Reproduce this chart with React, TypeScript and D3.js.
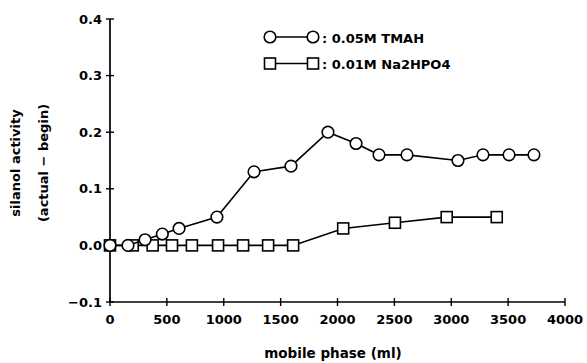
import React from "react";
import * as d3 from "d3";

const tmahX = [0, 158, 308, 460, 607, 940, 1266, 1591, 1916, 2163, 2365, 2611, 3059, 3279, 3508, 3727];
const tmahY = [0, 0, 0.01, 0.02, 0.03, 0.05, 0.13, 0.14, 0.2, 0.18, 0.16, 0.16, 0.15, 0.16, 0.16, 0.16];
const naX = [0, 200, 375, 545, 720, 950, 1170, 1390, 1610, 2050, 2505, 2960, 3400];
const naY = [0, 0, 0, 0, 0, 0, 0, 0, 0, 0.03, 0.04, 0.05, 0.05];
const xTicks = [0, 500, 1000, 1500, 2000, 2500, 3000, 3500, 4000];
const yTicks = [-0.1, 0.0, 0.1, 0.2, 0.3, 0.4];
const legendLabels = [": 0.05M TMAH", ": 0.01M Na2HPO4"];

const FONT = "'DejaVu Sans', sans-serif";

export default function App() {
  const W = 587, H = 363;
  const x = d3.scaleLinear().domain([0, 4000]).range([110, 565]);
  const y = d3.scaleLinear().domain([-0.1, 0.4]).range([302, 19]);
  const line = d3.line<[number, number]>().x(d => x(d[0])).y(d => y(d[1]));
  const tmah: [number, number][] = tmahX.map((v, i) => [v, tmahY[i]]);
  const na: [number, number][] = naX.map((v, i) => [v, naY[i]]);
  const r = 5.8;
  const s = 11;
  const sw = 1.6;
  return (
    <svg width={W} height={H} style={{ position: "absolute", left: 0, top: 0, background: "#fff" }}>
      <rect width={W} height={H} fill="#fff" />
      {/* axes */}
      <line x1={x(0)} x2={x(0)} y1={y(0.4)} y2={y(-0.1)} stroke="#000" strokeWidth={1.7} />
      <line x1={x(0)} x2={x(4000)} y1={y(-0.1)} y2={y(-0.1)} stroke="#000" strokeWidth={1.7} />
      {yTicks.map(t => (
        <g key={"y" + t}>
          <line x1={x(0) - 4} x2={x(0) + 4} y1={y(t)} y2={y(t)} stroke="#000" strokeWidth={1.4} />
          <text x={x(0) - 8} y={y(t) + 4.5} textAnchor="end" fontFamily={FONT} fontWeight="bold" fontSize={13} fill="#000">
            {t < 0 ? "\u22120.1" : t.toFixed(1)}
          </text>
        </g>
      ))}
      {xTicks.map(t => (
        <g key={"x" + t}>
          <line x1={x(t)} x2={x(t)} y1={y(-0.1) - 4} y2={y(-0.1) + 4} stroke="#000" strokeWidth={1.4} />
          <text x={x(t)} y={324} textAnchor="middle" fontFamily={FONT} fontWeight="bold" fontSize={13} fill="#000">
            {t}
          </text>
        </g>
      ))}
      <text x={333} y={358} textAnchor="middle" fontFamily={FONT} fontWeight="bold" fontSize={13.5} fill="#000">
        mobile phase (ml)
      </text>
      <text transform="translate(20,163) rotate(-90)" textAnchor="middle" fontFamily={FONT} fontWeight="bold" fontSize={13} fill="#000">
        silanol activity
      </text>
      <text transform="translate(48,163) rotate(-90)" textAnchor="middle" fontFamily={FONT} fontWeight="bold" fontSize={13} fill="#000">
        (actual {"\u2212"} begin)
      </text>
      {/* series */}
      <path d={line(na) || ""} fill="none" stroke="#000" strokeWidth={sw} />
      {na.map((d, i) => (
        <rect key={"s" + i} x={x(d[0]) - s / 2} y={y(d[1]) - s / 2} width={s} height={s} fill="#fff" stroke="#000" strokeWidth={sw} />
      ))}
      <path d={line(tmah) || ""} fill="none" stroke="#000" strokeWidth={sw} />
      {tmah.map((d, i) => (
        <circle key={"c" + i} cx={x(d[0])} cy={y(d[1])} r={r} fill="#fff" stroke="#000" strokeWidth={sw} />
      ))}
      {/* legend */}
      <line x1={270} x2={313} y1={37} y2={37} stroke="#000" strokeWidth={sw} />
      <circle cx={270} cy={37} r={r} fill="#fff" stroke="#000" strokeWidth={sw} />
      <circle cx={313} cy={37} r={r} fill="#fff" stroke="#000" strokeWidth={sw} />
      <text x={322} y={42.5} fontFamily={FONT} fontWeight="bold" fontSize={13} fill="#000">{legendLabels[0]}</text>
      <line x1={270} x2={313} y1={63.5} y2={63.5} stroke="#000" strokeWidth={sw} />
      <rect x={270 - s / 2} y={63.5 - s / 2} width={s} height={s} fill="#fff" stroke="#000" strokeWidth={sw} />
      <rect x={313 - s / 2} y={63.5 - s / 2} width={s} height={s} fill="#fff" stroke="#000" strokeWidth={sw} />
      <text x={322} y={69} fontFamily={FONT} fontWeight="bold" fontSize={13} fill="#000">{legendLabels[1]}</text>
    </svg>
  );
}
